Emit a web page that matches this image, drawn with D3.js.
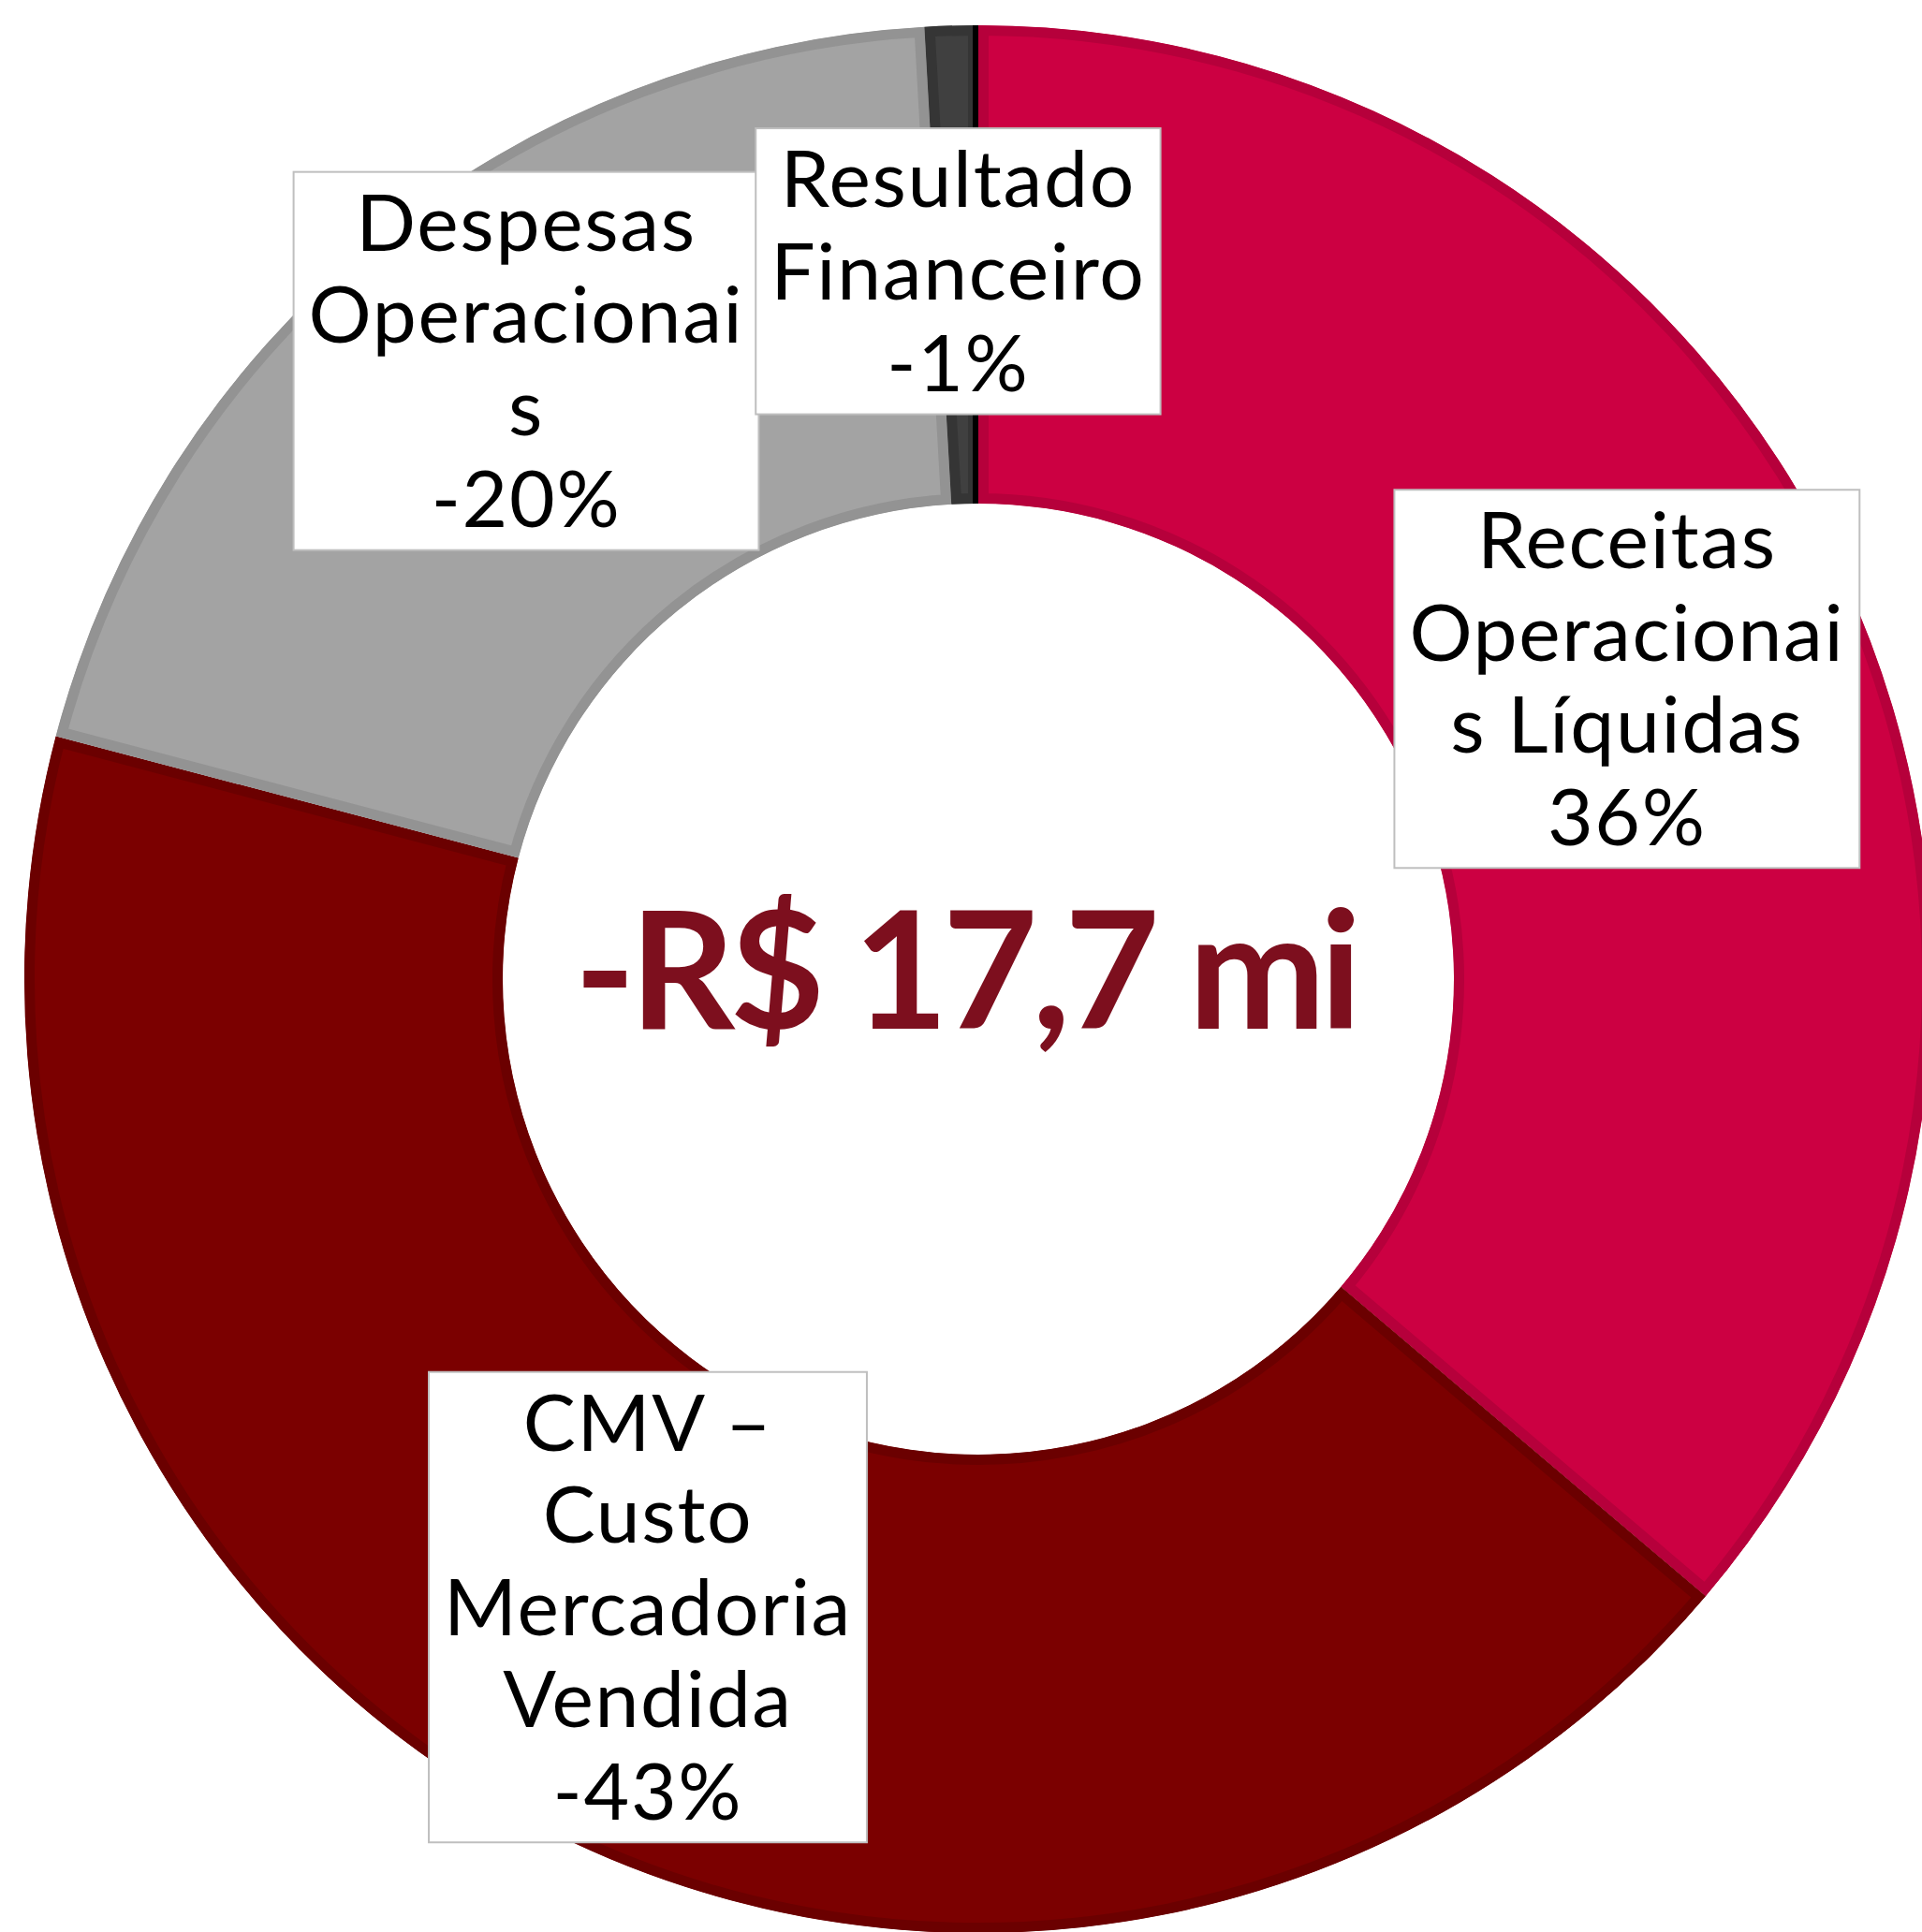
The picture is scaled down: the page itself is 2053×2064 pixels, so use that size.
<!DOCTYPE html>
<html>
<head>
<meta charset="utf-8">
<script src="https://cdn.jsdelivr.net/npm/d3@7"></script>
<style>
  body { margin: 0; background: #fff; overflow: hidden; }
  text { font-family: Lato, "Open Sans", sans-serif; }
</style>
</head>
<body>
<div id="chart"></div>
<script>
// slice data, clockwise from 12 o'clock
const categories = ['Receitas Operacionais Líquidas', 'CMV – Custo Mercadoria Vendida', 'Despesas Operacionais', 'Resultado Financeiro']
const shares = [36.2, 42.9, 20.0, 0.9]
const pctLabels = ['36%', '-43%', '-20%', '-1%']
// label lines as they wrap in the boxes
const labelLines = [
  ['Receitas', 'Operacionai', 's Líquidas'],
  ['CMV –', 'Custo', 'Mercadoria', 'Vendida'],
  ['Despesas', 'Operacionai', 's'],
  ['Resultado', 'Financeiro']
]
const totalLabel = '-R$ 17,7 mi'

const fills = ['#cc0042', '#7b0000', '#a3a3a3', '#404040']
const borders = ['#b6003b', '#6b0000', '#939393', '#353535']

const width = 2053
const height = 2064
const cx = 1045
const cy = 1046
const outerR = 1019
const innerR = 508

const svg = d3
  .select('#chart')
  .append('svg')
  .attr('width', width)
  .attr('height', height)

const g = svg.append('g').attr('transform', `translate(${cx},${cy})`)

const pie = d3.pie().sort(null).value(d => d)
const arc = d3.arc().innerRadius(innerR).outerRadius(outerR)
const arcs = pie(shares)

// clip paths so the darker border sits inside each slice
const defs = svg.append('defs')
defs
  .selectAll('clipPath')
  .data(arcs)
  .enter()
  .append('clipPath')
  .attr('id', (d, i) => 'clip' + i)
  .append('path')
  .attr('d', arc)

g.selectAll('.slice')
  .data(arcs)
  .enter()
  .append('path')
  .attr('class', 'slice')
  .attr('d', arc)
  .attr('fill', (d, i) => fills[i])
  .attr('stroke', (d, i) => borders[i])
  .attr('stroke-width', 22)
  .attr('clip-path', (d, i) => `url(#clip${i})`)

// thin black edge where the last slice closes the ring
const last = arcs[arcs.length - 1]
const p0 = d3.pointRadial(last.endAngle, innerR)
const p1 = d3.pointRadial(last.endAngle, outerR)
g.append('line')
  .attr('x1', p0[0] - 3)
  .attr('y1', p0[1])
  .attr('x2', p1[0] - 3)
  .attr('y2', p1[1])
  .attr('stroke', '#000')
  .attr('stroke-width', 6)

// label boxes centred on each slice's centroid
const labelArc = d3.arc().innerRadius(innerR).outerRadius(outerR)
const nudgeY = [0, -6, -69, 7]
const fontSize = 84
const lineH = 98.5

const labels = g
  .selectAll('.label')
  .data(arcs)
  .enter()
  .append('g')
  .attr('class', 'label')
  .attr('transform', (d, i) => {
    const c = labelArc.centroid(d)
    return `translate(${c[0]},${c[1] + nudgeY[i]})`
  })

labels.each(function(d, i) {
  const lab = d3.select(this)
  const lines = labelLines[i].concat([pctLabels[i]])
  const rect = lab.append('rect')
  const txt = lab
    .append('text')
    .attr('text-anchor', 'middle')
    .attr('font-size', fontSize)
    .attr('letter-spacing', 1.7)
    .attr('fill', '#000')
  const boxH = lines.length * lineH + 10
  const top = -boxH / 2
  lines.forEach((l, k) => {
    txt
      .append('tspan')
      .attr('x', 0)
      .attr('y', top + 84 + k * lineH)
      .text(l)
  })
  const bw = txt.node().getBBox().width + 32
  rect
    .attr('x', -bw / 2)
    .attr('y', top)
    .attr('width', bw)
    .attr('height', boxH)
    .attr('fill', '#fff')
    .attr('stroke', '#bfbfbf')
    .attr('stroke-width', 2)
})

// total in the hole
g.append('text')
  .attr('x', -14)
  .attr('y', 53)
  .attr('text-anchor', 'middle')
  .attr('font-size', 175)
  .attr('font-weight', 700)
  .attr('letter-spacing', -6)
  .attr('fill', '#7d0f1e')
  .text(totalLabel)
</script>
</body>
</html>
